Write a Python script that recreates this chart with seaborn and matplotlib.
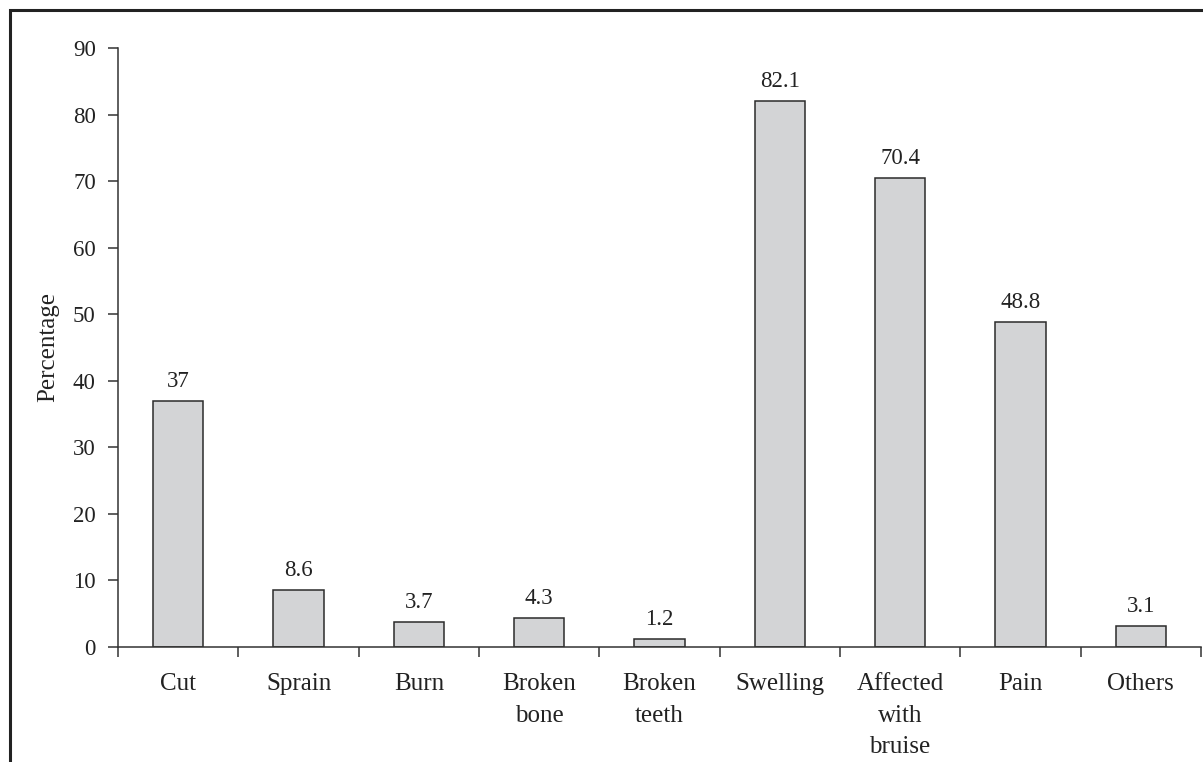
import matplotlib
matplotlib.use("Agg")
import matplotlib.pyplot as plt
import seaborn as sns
import pandas as pd
from matplotlib.patches import Rectangle

categories = ["Cut", "Sprain", "Burn", "Broken\nbone", "Broken\nteeth",
              "Swelling", "Affected\nwith\nbruise", "Pain", "Others"]
percentages = [37, 8.6, 3.7, 4.3, 1.2, 82.1, 70.4, 48.8, 3.1]
value_labels = ["37", "8.6", "3.7", "4.3", "1.2", "82.1", "70.4", "48.8", "3.1"]
y_ticks = [0, 10, 20, 30, 40, 50, 60, 70, 80, 90]

sns.set_style("ticks")
plt.rcParams["font.family"] = ["Liberation Serif", "DejaVu Serif"]

W, H = 1203, 762
fig = plt.figure(figsize=(W / 100, H / 100), dpi=100)
ax = fig.add_axes([118 / W, 1 - 647 / H, (1201 - 118) / W, (647 - 48) / H])

df = pd.DataFrame({"cat": categories, "pct": percentages})
sns.barplot(data=df, x="cat", y="pct", order=categories, color="#d3d4d6",
            saturation=1, edgecolor="#2b2b2b", linewidth=1.1, width=0.42, ax=ax)

for i, (v, lab) in enumerate(zip(percentages, value_labels)):
    ax.annotate(lab, (i, v), xytext=(0, 6.5), textcoords="offset points",
                ha="center", va="bottom", fontsize=16.5, color="#222222")

ax.set_xlim(-0.5, len(categories) - 0.5)
ax.set_ylim(0, 90)
ax.set_yticks(y_ticks)
ax.set_yticklabels([str(t) for t in y_ticks])
ax.set_ylabel("Percentage", fontsize=18, color="#222222", labelpad=10)
ax.set_xlabel("")

# category separators as x ticks
ax.set_xticks([i - 0.5 for i in range(len(categories) + 1)], minor=False)
ax.set_xticklabels([""] * (len(categories) + 1))
ax.set_xticks(range(len(categories)), minor=True)
ax.set_xticklabels(categories, minor=True, fontsize=18, color="#222222",
                   linespacing=1.55)
ax.tick_params(axis="x", which="minor", length=0, pad=19)
ax.tick_params(axis="x", which="major", length=7, width=1.1, color="#333333",
               direction="out")
ax.tick_params(axis="y", length=7, width=1.1, color="#333333", pad=9,
               labelsize=16.5, labelcolor="#222222")

for s in ["top", "right"]:
    ax.spines[s].set_visible(False)
for s in ["left", "bottom"]:
    ax.spines[s].set_linewidth(1.1)
    ax.spines[s].set_color("#333333")

# outer frame open at bottom and right
fig.patches.append(Rectangle((10 / W, -0.1), 1.2, 1 - 10 / H + 0.1,
                             transform=fig.transFigure, fill=False,
                             edgecolor="#222222", linewidth=2.2, zorder=10))

fig.savefig("out.png", dpi=100)
